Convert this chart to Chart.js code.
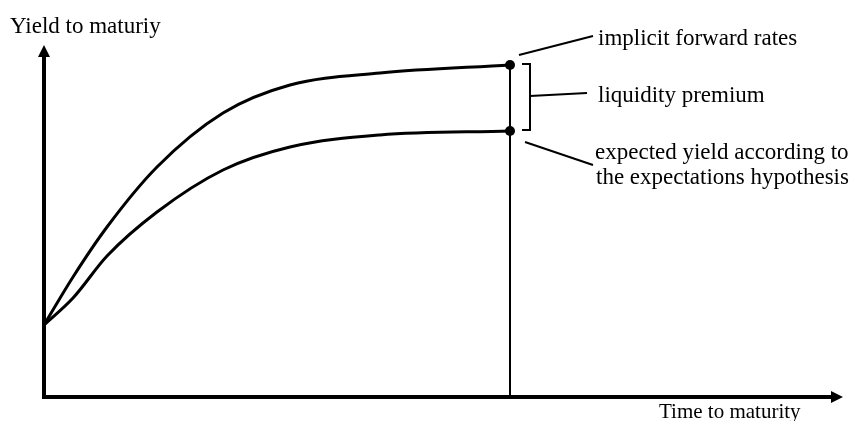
<!DOCTYPE html>
<html>
<head>
<meta charset="utf-8">
<script src="https://cdn.jsdelivr.net/npm/chart.js@4/dist/chart.umd.min.js"></script>
<style>
  html, body { margin: 0; padding: 0; background: #fff; }
  canvas { display: block; }
</style>
</head>
<body>
<canvas id="c" width="851" height="421"></canvas>
<script>
// ---- data (schematic) ----
const maturity      = [0, 2.9, 6.3, 11.3, 17.9, 24.6, 33.6, 46.6];
const forwardYield  = [7.2, 12.0, 17.0, 23.0, 28.4, 31.2, 32.4, 33.2];
const expectedYield = [7.2, 9.9, 14.1, 18.5, 22.7, 25.0, 26.2, 26.6];
const axisMax = { x: 79.9, y: 35.2 };
const labels = {
  yAxis: 'Yield to maturiy',
  xAxis: 'Time to maturity',
  forward: 'implicit forward rates',
  premium: 'liquidity premium',
  expected: ['expected yield according to', 'the expectations hypothesis']
};

const toXY = (ys) => ys.map((y, i) => ({ x: maturity[i], y }));
const lastIdx = maturity.length - 1;
const dotRadius = maturity.map((_, i) => (i === lastIdx ? 5 : 0));

const FONT = '23px "Liberation Serif", "Times New Roman", serif';
const FONT_X = '21px "Liberation Serif", "Times New Roman", serif';

const diagramPlugin = {
  id: 'diagram',
  beforeDatasetsDraw(chart) {
    const { ctx } = chart;
    const xs = chart.scales.x, ys = chart.scales.y;
    const x0 = xs.getPixelForValue(0), y0 = ys.getPixelForValue(0);
    const xEnd = xs.getPixelForValue(axisMax.x), yEnd = ys.getPixelForValue(axisMax.y);
    ctx.save();
    ctx.strokeStyle = '#000';
    ctx.fillStyle = '#000';
    ctx.lineWidth = 4;
    ctx.lineCap = 'butt';
    // y axis
    ctx.beginPath();
    ctx.moveTo(x0, y0 + 2);
    ctx.lineTo(x0, yEnd + 10);
    ctx.stroke();
    ctx.beginPath();
    ctx.moveTo(x0, yEnd);
    ctx.lineTo(x0 - 6, yEnd + 12);
    ctx.lineTo(x0 + 6, yEnd + 12);
    ctx.closePath();
    ctx.fill();
    // x axis
    ctx.beginPath();
    ctx.moveTo(x0 - 2, y0);
    ctx.lineTo(xEnd - 10, y0);
    ctx.stroke();
    ctx.beginPath();
    ctx.moveTo(xEnd, y0);
    ctx.lineTo(xEnd - 12, y0 - 6);
    ctx.lineTo(xEnd - 12, y0 + 6);
    ctx.closePath();
    ctx.fill();
    ctx.restore();
  },
  afterDatasetsDraw(chart) {
    const { ctx } = chart;
    const xs = chart.scales.x, ys = chart.scales.y;
    const x0 = xs.getPixelForValue(0), y0 = ys.getPixelForValue(0);
    const yEnd = ys.getPixelForValue(axisMax.y);
    const dx = xs.getPixelForValue(maturity[lastIdx]);
    const topY = ys.getPixelForValue(forwardYield[lastIdx]);
    const botY = ys.getPixelForValue(expectedYield[lastIdx]);
    ctx.save();
    ctx.strokeStyle = '#000';
    ctx.fillStyle = '#000';
    ctx.lineWidth = 2;
    // leader for forward rates
    ctx.beginPath();
    ctx.moveTo(dx + 9, topY - 10);
    ctx.lineTo(dx + 83, topY - 29);
    ctx.stroke();
    // bracket
    ctx.beginPath();
    ctx.moveTo(dx + 12, topY - 1);
    ctx.lineTo(dx + 20, topY - 1);
    ctx.lineTo(dx + 20, botY - 1);
    ctx.lineTo(dx + 12, botY - 1);
    ctx.stroke();
    const midY = (topY + botY) / 2;
    ctx.beginPath();
    ctx.moveTo(dx + 20, midY - 2);
    ctx.lineTo(dx + 77, midY - 5);
    ctx.stroke();
    // leader for expected yield
    ctx.beginPath();
    ctx.moveTo(dx + 15, botY + 11);
    ctx.lineTo(dx + 83, botY + 34);
    ctx.stroke();
    // texts
    ctx.font = FONT;
    ctx.textBaseline = 'alphabetic';
    ctx.textAlign = 'left';
    ctx.fillText(labels.forward, dx + 88, topY - 20);
    ctx.fillText(labels.premium, dx + 88, midY + 4);
    ctx.fillText(labels.expected[0], dx + 85, botY + 28);
    ctx.fillText(labels.expected[1], dx + 86, botY + 53);
    ctx.fillText(labels.yAxis, x0 - 34, yEnd - 12);
    ctx.font = FONT_X;
    ctx.fillText(labels.xAxis, 659, y0 + 21);
    ctx.restore();
  }
};

const curveStyle = {
  borderColor: '#000',
  backgroundColor: '#000',
  borderWidth: 3,
  cubicInterpolationMode: 'monotone',
  pointRadius: dotRadius,
  pointHoverRadius: dotRadius,
  pointBackgroundColor: '#000',
  pointBorderWidth: 0,
  clip: false
};

new Chart(document.getElementById('c'), {
  type: 'line',
  data: {
    datasets: [
      Object.assign({ label: 'implicit forward rates', data: toXY(forwardYield) }, curveStyle),
      Object.assign({ label: 'expected yield', data: toXY(expectedYield) }, curveStyle),
      {
        label: 'drop line',
        data: [{ x: maturity[lastIdx], y: 0 }, { x: maturity[lastIdx], y: forwardYield[lastIdx] }],
        borderColor: '#000',
        borderWidth: 2,
        pointRadius: 0,
        clip: false
      }
    ]
  },
  options: {
    responsive: false,
    animation: false,
    layout: { padding: { left: 44, right: 8, top: 45, bottom: 24 } },
    plugins: { legend: { display: false }, tooltip: { enabled: false }, title: { display: false } },
    scales: {
      x: { type: 'linear', min: 0, max: axisMax.x, display: false },
      y: { type: 'linear', min: 0, max: axisMax.y, display: false }
    }
  },
  plugins: [diagramPlugin]
});
</script>
</body>
</html>
